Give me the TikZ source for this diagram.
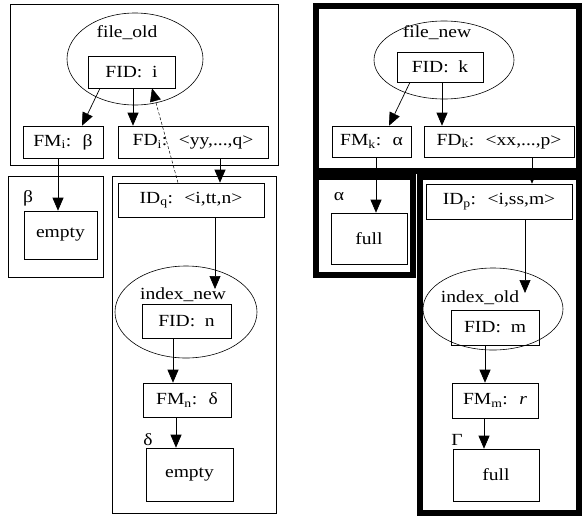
\documentclass[tikz,border=0pt]{standalone}
\usepackage{fontspec}
\setmainfont{Liberation Serif}[FakeStretch=1.15]
\usetikzlibrary{arrows.meta,shapes.geometric}
\begin{document}
\begin{tikzpicture}[x=1pt,y=-1pt,
  every node/.style={font=\fontsize{17}{20}\selectfont},
  box/.style={draw, line width=0.6pt, inner sep=0pt},
  oval/.style={draw, ellipse, line width=0.6pt, inner sep=0pt},
  lbl/.style={inner sep=0pt},
  thinframe/.style={draw, line width=0.6pt},
  thickframe/.style={draw, line width=6pt},
  arr/.style={line width=0.7pt, -{Triangle[length=13pt,width=11pt]}},
  darr/.style={line width=0.5pt, densely dashed, -{Triangle[length=13pt,width=11pt]}}]
\useasboundingbox (0,0) rectangle (583,517);
% ---------- left side ----------
\draw[thinframe] (10,4) rectangle (278,165);
\node[oval, minimum width=136pt, minimum height=92pt] (eold) at (135,59) {};
\node[lbl] (lold) at (127,33) {file\_old};
\node[box, minimum width=87pt, minimum height=32pt] (fidi) at (131.5,72) {FID:~ i};
\node[box, minimum width=80pt, minimum height=32pt] (fmi) at (63,142) {FM\textsubscript{i}:~ β};
\node[box, minimum width=150pt, minimum height=32pt] (fdi) at (193,142) {FD\textsubscript{i}:~ <yy,...,q>};
\draw[thinframe] (8,176) rectangle (103,277);
\node[lbl] (lbeta) at (28,198) {β};
\node[box, minimum width=73pt, minimum height=48pt] (emp1) at (60.5,235) {empty};
\draw[thinframe] (112,176) rectangle (276,513);
\node[box, minimum width=146pt, minimum height=34pt] (idq) at (191,200) {ID\textsubscript{q}:~ <i,tt,n>};
\node[oval, minimum width=142pt, minimum height=92pt] (enew) at (186,312) {};
\node[lbl] (lnew) at (183,295) {index\_new};
\node[box, minimum width=89pt, minimum height=34pt] (fidn) at (186.5,321) {FID:~ n};
\node[box, minimum width=88pt, minimum height=34pt] (fmn) at (187,400) {FM\textsubscript{n}:~ δ};
\node[lbl] (ldelta) at (148,440) {δ};
\node[box, minimum width=87pt, minimum height=53pt] (emp2) at (189.5,474.5) {empty};
\coordinate (tnew) at (215,289);
% ---------- right side ----------
\draw[thickframe] (316,5.5) rectangle (579,171);
\node[oval, minimum width=140pt, minimum height=78pt] (enw) at (444,60) {};
\node[lbl] (lnw) at (437,33) {file\_new};
\node[box, minimum width=86pt, minimum height=30pt] (fidk) at (440,67) {FID:~ k};
\node[box, minimum width=79pt, minimum height=31pt] (fmk) at (371.5,141.5) {FM\textsubscript{k}:~ α};
\node[box, minimum width=150pt, minimum height=31pt] (fdk) at (499,141.5) {FD\textsubscript{k}:~ <xx,...,p>};
\draw[thickframe] (316,177) rectangle (413,275);
\node[lbl] (lalpha) at (339,197) {α};
\node[box, minimum width=76pt, minimum height=51pt] (full1) at (369,238.5) {full};
\draw[thickframe] (420,177) rectangle (579,513);
\node[box, minimum width=146pt, minimum height=35pt] (idp) at (499,201.5) {ID\textsubscript{p}:~ <i,ss,m>};
\node[oval, minimum width=140pt, minimum height=82pt] (eold2) at (493,309) {};
\node[lbl] (lold2) at (480,298) {index\_old};
\node[box, minimum width=88pt, minimum height=35pt] (fidm) at (495,327.5) {FID:~ m};
\node[box, minimum width=86pt, minimum height=35pt] (fmm) at (495,400.5) {FM\textsubscript{m}:~ \textit{r}};
\node[lbl] (lgamma) at (457,440) {Γ};
\node[box, minimum width=86pt, minimum height=52pt] (full2) at (496,475) {full};
\coordinate (told) at (525,293);
% ---------- connectors ----------
\draw[arr] (100,0 |- fidi.south) -- (82,0 |- fmi.north);
\draw[arr] (133,0 |- fidi.south) -- (133,0 |- fdi.north);
\draw[darr] (178,0 |- idq.north) -- (152,0 |- fidi.south);
\draw[arr] (58,0 |- fmi.south) -- (58,0 |- emp1.north);
\draw[arr] (220,0 |- fdi.south) -- (220,0 |- idq.north);
\draw[arr] (215,0 |- idq.south) -- (tnew);
\draw[arr] (173,0 |- fidn.south) -- (173,0 |- fmn.north);
\draw[arr] (176,0 |- fmn.south) -- (176,0 |- emp2.north);
\draw[arr] (410,0 |- fidk.south) -- (389,0 |- fmk.north);
\draw[arr] (442,0 |- fidk.south) -- (442,0 |- fdk.north);
\draw[arr] (376,0 |- fmk.south) -- (376,0 |- full1.north);
\draw[arr] (532,0 |- fdk.south) -- (532,0 |- idp.north);
\draw[arr] (525,0 |- idp.south) -- (told);
\draw[arr] (485,0 |- fidm.south) -- (485,0 |- fmm.north);
\draw[arr] (484,0 |- fmm.south) -- (484,0 |- full2.north);
\end{tikzpicture}
\end{document}
